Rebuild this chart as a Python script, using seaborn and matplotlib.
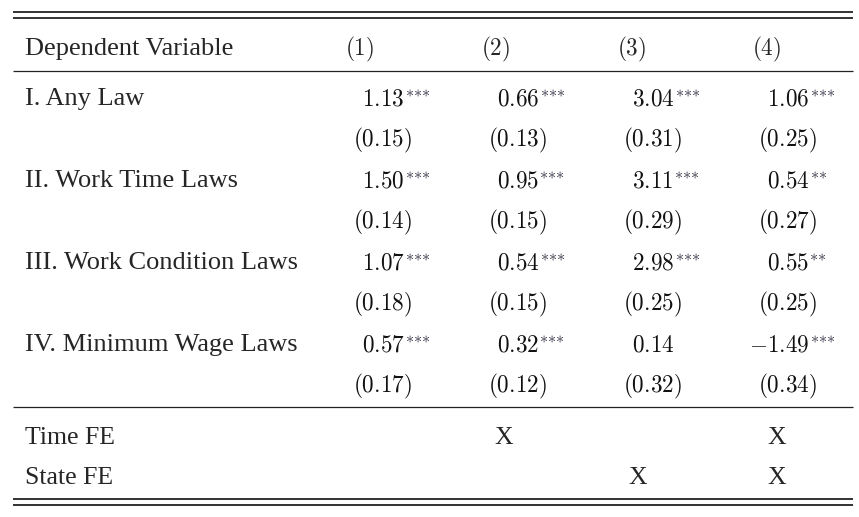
import matplotlib
matplotlib.use("Agg")
import matplotlib.pyplot as plt
import seaborn as sns

# Table contents
row_labels = ["I. Any Law", "II. Work Time Laws", "III. Work Condition Laws", "IV. Minimum Wage Laws"]
col_headers = ["(1)", "(2)", "(3)", "(4)"]
coefs = [
    [1.13, 0.66, 3.04, 1.06],
    [1.50, 0.95, 3.11, 0.54],
    [1.07, 0.54, 2.98, 0.55],
    [0.57, 0.32, 0.14, -1.49],
]
ses = [
    [0.15, 0.13, 0.31, 0.25],
    [0.14, 0.15, 0.29, 0.27],
    [0.18, 0.15, 0.25, 0.25],
    [0.17, 0.12, 0.32, 0.34],
]
stars = [
    ["***", "***", "***", "***"],
    ["***", "***", "***", "**"],
    ["***", "***", "***", "**"],
    ["***", "***", "", "***"],
]
fe_labels = ["Time FE", "State FE"]
fe_marks = [
    [False, True, False, True],
    [False, False, True, True],
]

sns.set_theme(style="white")
plt.rcParams["mathtext.fontset"] = "cm"
plt.rcParams["font.family"] = ["Liberation Serif", "DejaVu Serif"]

fig = plt.figure(figsize=(8.59, 5.17), dpi=100)
ax = fig.add_axes([0, 0, 1, 1])
ax.set_xlim(0, 859)
ax.set_ylim(517, 0)
ax.axis("off")
renderer = fig.canvas.get_renderer()

x_left, x_right = 13, 853
label_x = 25
dec_x = [374, 509, 644, 779]
head_x = [345, 481, 617, 752]
fe_x = [369, 504, 638, 777]
num_size = 16.7
lab_size = 19
fe_size = 18.5

# rules
for y, lw in [(12, 1.3), (18, 1.3), (71, 0.9), (407, 0.9), (499, 1.3), (505, 1.3)]:
    ax.plot([x_left, x_right], [y, y], color="#222222", lw=lw, solid_capstyle="butt")

# header
ax.text(label_x, 55, "Dependent Variable", fontsize=lab_size, va="baseline", ha="left")
for j, h in enumerate(col_headers):
    ax.text(head_x[j], 55, "$" + h + "$", fontsize=num_size, va="baseline", ha="left")


def text_width(s, size):
    t = ax.text(0, 0, s, fontsize=size)
    w = t.get_window_extent(renderer).width
    t.remove()
    return w


def put_decimal(x, y, lead, tail, sup=""):
    # align on the decimal point: shift by width of the part before it
    w_ref = text_width("$" + lead + ".$", num_size) - text_width("$.$", num_size)
    s = "$" + lead + "." + tail + "$"
    x0 = x - w_ref
    ax.text(x0, y, s, fontsize=num_size, va="baseline", ha="left", color="#111111")
    if sup:
        w = text_width(s, num_size)
        ax.text(x0 + w - 1, y, "${}^{" + "".join("{*}" for _ in sup) + "}$",
                fontsize=num_size, va="baseline", ha="left", color="#333344")


def split_num(v):
    s = f"{abs(v):.2f}"
    ip, fp = s.split(".")
    if v < 0:
        ip = "-" + ip
    return ip, fp


for i, lab in enumerate(row_labels):
    yb = 105 + 82 * i
    ys = 146 + 82 * i
    ax.text(label_x, yb, lab, fontsize=lab_size, va="baseline", ha="left")
    for j in range(4):
        ip, fp = split_num(coefs[i][j])
        put_decimal(dec_x[j], yb, ip, fp, stars[i][j])
        ip, fp = split_num(ses[i][j])
        put_decimal(dec_x[j], ys, "(" + ip, fp + ")")

for k, lab in enumerate(fe_labels):
    yb = 444 + 40 * k
    ax.text(label_x, yb, lab, fontsize=fe_size, va="baseline", ha="left")
    for j in range(4):
        if fe_marks[k][j]:
            ax.text(fe_x[j], yb, "X", fontsize=fe_size, va="baseline", ha="center")

fig.savefig("out.png", dpi=100, facecolor="white")
